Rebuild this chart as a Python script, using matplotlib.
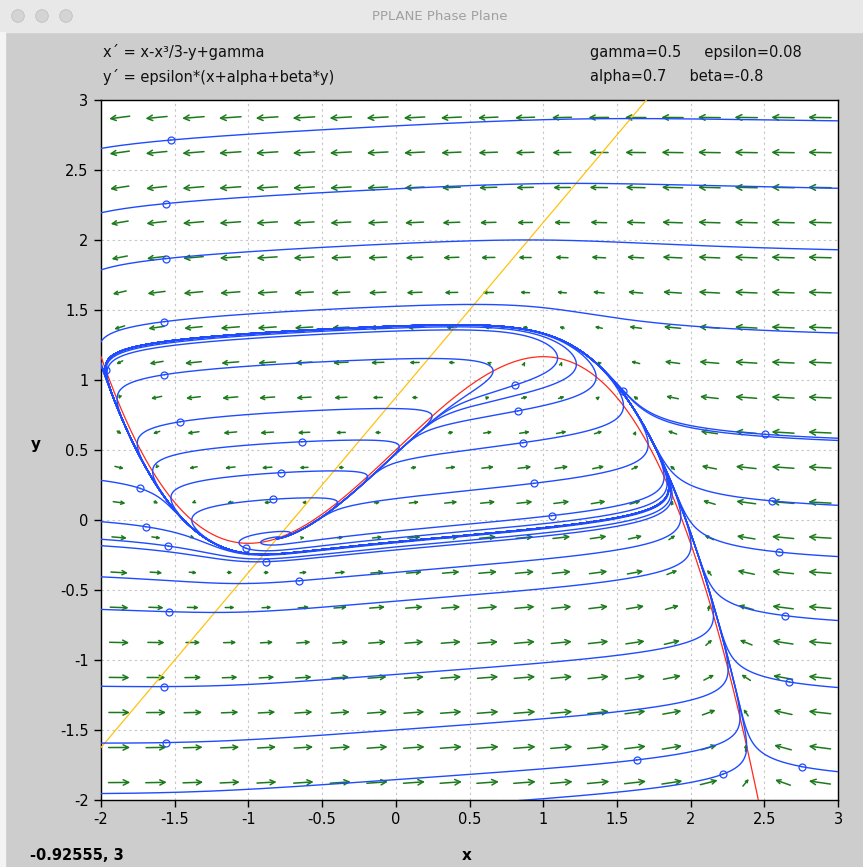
"""
PPLANE phase plane: FitzHugh-Nagumo type system
"""

import numpy as np
import matplotlib.pyplot as plt
from matplotlib.patches import Rectangle, Circle

# parameters shown in the window
gamma = 0.5
epsilon = 0.08
alpha = 0.7
beta = -0.8

# display window and ticks
x_lim = [-2, 3]
y_lim = [-2, 3]
x_ticks = [-2, -1.5, -1, -0.5, 0, 0.5, 1, 1.5, 2, 2.5, 3]
y_ticks = [-2, -1.5, -1, -0.5, 0, 0.5, 1, 1.5, 2, 2.5, 3]

# initial points (the small circles)
x_start = [-1.527, -1.561, -1.561, -1.570, -1.570, -1.462, -1.966,
           -0.638, -0.781, -0.835, -1.735, -1.695, -1.543, -1.016,
           -0.883, -0.655, -1.537, -1.570, -1.559,
           0.811, 0.826, 0.861, 1.544, 0.937, 1.057,
           2.505, 2.555, 2.600, 2.640, 2.670, 2.756, 2.218, 1.634]
y_start = [2.714, 2.260, 1.867, 1.417, 1.038, 0.702, 1.070,
           0.559, 0.338, 0.148, 0.226, -0.048, -0.186, -0.202,
           -0.298, -0.434, -0.655, -1.190, -1.590,
           0.964, 0.779, 0.552, 0.921, 0.262, 0.031,
           0.612, 0.136, -0.229, -0.683, -1.157, -1.762, -1.816, -1.714]

# arrow grid centres
x_arrows = [-1.875 + 0.25 * k for k in range(20)]
y_arrows = [-1.875 + 0.25 * k for k in range(20)]

BLUE = "#1f4bff"
GREEN = "#1c7a1c"
RED = "#ff2a1a"
ORANGE = "#ffc20e"
BG = "#cdcdcd"


def field(x, y):
    dx = x - x ** 3 / 3 - y + gamma
    dy = epsilon * (x + alpha + beta * y)
    return dx, dy


# equilibrium (for stopping backward orbits)
roots = np.roots([-1 / 3, 1 + 1 / beta, 0, gamma + alpha / beta])
x_eq = [r.real for r in roots if abs(r.imag) < 1e-9][0]
y_eq = -(x_eq + alpha) / beta


def solve(x0, y0, sign, t_max=120.0, h=0.01):
    box = (x_lim[0] - 0.6, x_lim[1] + 0.6, y_lim[0] - 0.6, y_lim[1] + 0.6)
    xs, ys = [x0], [y0]
    x, y = x0, y0
    lag = int(15 / h)
    for i in range(int(t_max / h)):
        k1 = field(x, y)
        k2 = field(x + 0.5 * sign * h * k1[0], y + 0.5 * sign * h * k1[1])
        k3 = field(x + 0.5 * sign * h * k2[0], y + 0.5 * sign * h * k2[1])
        k4 = field(x + sign * h * k3[0], y + sign * h * k3[1])
        x = x + sign * h / 6 * (k1[0] + 2 * k2[0] + 2 * k3[0] + k4[0])
        y = y + sign * h / 6 * (k1[1] + 2 * k2[1] + 2 * k3[1] + k4[1])
        xs.append(x)
        ys.append(y)
        if not (box[0] < x < box[1] and box[2] < y < box[3]):
            break
        if sign < 0 and np.hypot(x - x_eq, y - y_eq) < 0.004:
            break
        # nearly closed orbit
        if sign > 0 and i > lag and i % 10 == 0:
            px = np.array(xs[: i - lag])
            py = np.array(ys[: i - lag])
            if np.min(np.hypot(px - x, py - y)) < 0.02:
                break
    return np.array(xs), np.array(ys)


fig = plt.figure(figsize=(8.63, 8.67), dpi=100, facecolor=BG)
plt.rcParams["axes.unicode_minus"] = False

# window decorations in pixel coordinates
deco = fig.add_axes([0, 0, 1, 1])
deco.set_xlim(0, 863)
deco.set_ylim(867, 0)
deco.axis("off")
deco.add_patch(Rectangle((0, 0), 863, 32, color="#e8e8e8", zorder=0))
deco.add_patch(Rectangle((0, 32), 5, 835, color="#f4f4f4", zorder=0))
for cx in [18, 42, 66]:
    deco.add_patch(Circle((cx, 16), 6.3, facecolor="#d4d4d4", edgecolor="#c0c0c0", lw=0.6))
deco.text(440, 17, "PPLANE Phase Plane", ha="center", va="center", fontsize=9.5, color="#a0a0a0")

txt = dict(fontsize=10.5, va="center", color="#111111")
deco.text(103, 52, "x\u00b4 = x-x\u00b3/3-y+gamma", ha="left", **txt)
deco.text(103, 77, "y\u00b4 = epsilon*(x+alpha+beta*y)", ha="left", **txt)
deco.text(590, 52, "gamma=0.5     epsilon=0.08", ha="left", **txt)
deco.text(590, 77, "alpha=0.7     beta=-0.8", ha="left", **txt)
deco.text(30, 855, "-0.92555, 3", ha="left", va="center", fontsize=10.5, fontweight="bold")
deco.text(467, 855, "x", ha="center", va="center", fontsize=11, fontweight="bold")
deco.text(36, 445, "y", ha="center", va="center", fontsize=11, fontweight="bold")

# main phase plane
ax = fig.add_axes([101 / 863, 1 - 800 / 867, 737 / 863, 700 / 867])
ax.set_facecolor("white")
ax.set_xlim(x_lim)
ax.set_ylim(y_lim)
ax.set_xticks(x_ticks)
ax.set_yticks(y_ticks)
ax.set_xticklabels([f"{v:g}" for v in x_ticks])
ax.set_yticklabels([f"{v:g}" for v in y_ticks])
ax.tick_params(direction="out", length=5, width=1, labelsize=10.5, pad=4)
ax.grid(True, color="#c4c4c4", linestyle=(0, (2, 3)), lw=0.8)
for s in ax.spines.values():
    s.set_linewidth(1.0)

# pixels per unit, used to size arrows on screen
sx = 737 / (x_lim[1] - x_lim[0])
sy = 700 / (y_lim[1] - y_lim[0])

for xa in x_arrows:
    for ya in y_arrows:
        u, v = field(xa, ya)
        pu, pv = u * sx, v * sy
        norm = np.hypot(pu, pv)
        mag = np.hypot(u, v)
        length = 23 * (1 - np.exp(-mag / 0.9))
        if norm == 0 or length < 1:
            continue
        dx = pu / norm * length / sx
        dy = pv / norm * length / sy
        ax.annotate("", xy=(xa + dx / 2, ya + dy / 2), xytext=(xa - dx / 2, ya - dy / 2),
                    arrowprops=dict(arrowstyle="->", color=GREEN, lw=1.1,
                                    shrinkA=0, shrinkB=0,
                                    mutation_scale=max(4, length * 0.45)),
                    zorder=2)

# nullclines
xn = np.linspace(x_lim[0], x_lim[1], 600)
ax.plot(xn, xn - xn ** 3 / 3 + gamma, color=RED, lw=0.9, zorder=3)
ax.plot(xn, -(xn + alpha) / beta, color=ORANGE, lw=0.9, zorder=3)

# solution curves
for x0, y0 in zip(x_start, y_start):
    for sign in (1, -1):
        px, py = solve(x0, y0, sign)
        ax.plot(px, py, color=BLUE, lw=1.0, zorder=4)
ax.plot(x_start, y_start, "o", mfc="none", mec=BLUE, ms=5, mew=0.9, zorder=5)

ax.set_xlim(x_lim)
ax.set_ylim(y_lim)

plt.savefig("out.png", dpi=100, facecolor=BG)
